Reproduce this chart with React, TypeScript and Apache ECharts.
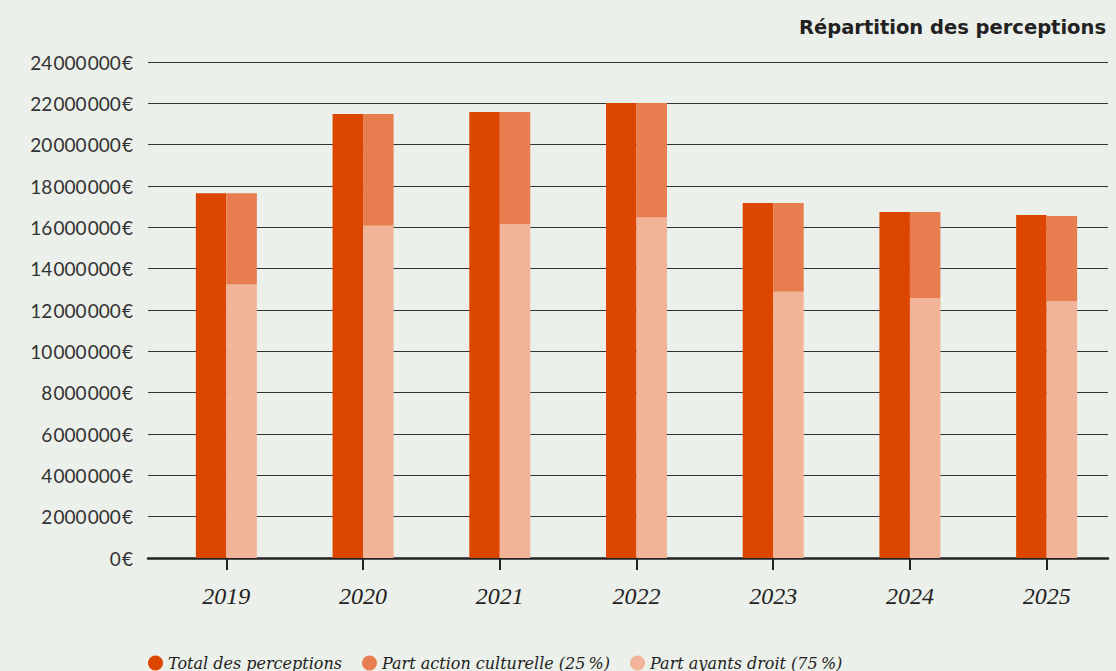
import React, { useEffect, useRef } from "react";
import * as echarts from "echarts";

const years = ["2019", "2020", "2021", "2022", "2023", "2024", "2025"];
const totalPerceptions = [17650000, 21480000, 21580000, 22020000, 17180000, 16740000, 16600000];
const partAyantsDroit = [13230000, 16080000, 16160000, 16480000, 12880000, 12570000, 12440000];
const partActionCulturelle = [4420000, 5400000, 5420000, 5540000, 4300000, 4170000, 4110000];
const yTicks = { min: 0, max: 24000000, interval: 2000000 };
const title = "Répartition des perceptions";
const seriesNames = ["Total des perceptions", "Part action culturelle (25\u202F%)", "Part ayants droit (75\u202F%)"];

const fmt = (v: number) => {
  const s = Math.round(v).toString().replace(/\B(?=(\d{3})+(?!\d))/g, "\u200A");
  return s + "\u200A€";
};

export default function App() {
  const ref = useRef<HTMLDivElement>(null);
  useEffect(() => {
    if (!ref.current) return;
    const chart = echarts.init(ref.current, null, { renderer: "svg" });
    const gridTop = 62;
    const gridBottom = 113;
    chart.setOption({
      animation: false,
      backgroundColor: "#ECF0EA",
      title: {
        text: title,
        right: 5,
        top: 12,
        textStyle: { fontFamily: "DejaVu Sans", fontWeight: "bold", fontSize: 19.5, color: "#222" },
      },
      legend: {
        data: seriesNames,
        left: 143,
        top: 650,
        icon: "circle",
        itemWidth: 15,
        itemHeight: 15,
        itemGap: 20,
        textStyle: { fontFamily: "DejaVu Serif", fontStyle: "italic", fontSize: 16, color: "#222" },
      },
      grid: [
        { left: 158, right: 1, top: gridTop, bottom: gridBottom },
        { left: 148, right: 8, top: gridTop, bottom: gridBottom },
      ],
      xAxis: [
        {
          type: "category",
          gridIndex: 0,
          data: years,
          axisLine: { show: false },
          axisTick: { show: true, alignWithLabel: true, length: 12, lineStyle: { color: "#222", width: 2 } },
          axisLabel: {
            margin: 26,
            fontFamily: "Liberation Serif",
            fontStyle: "italic",
            fontSize: 24,
            color: "#222",
          },
        },
        {
          type: "value",
          gridIndex: 1,
          min: 0,
          max: 1,
          axisLine: { show: true, onZero: false, lineStyle: { color: "#222", width: 2.5 } },
          axisTick: { show: false },
          axisLabel: { show: false },
          splitLine: { show: false },
        },
      ],
      yAxis: [
        {
          type: "value",
          gridIndex: 0,
          ...yTicks,
          axisLine: { show: false },
          axisTick: { show: false },
          splitLine: { show: false },
          axisLabel: {
            margin: 25,
            formatter: fmt,
            fontFamily: "Lato",
            fontSize: 19,
            color: "#333",
          },
        },
        {
          type: "value",
          gridIndex: 1,
          ...yTicks,
          axisLine: { show: false },
          axisTick: { show: false },
          axisLabel: { show: false },
          splitLine: { show: true, lineStyle: { color: "#333", width: 1.2 } },
        },
      ],
      series: [
        {
          name: seriesNames[0],
          type: "bar",
          xAxisIndex: 0,
          yAxisIndex: 0,
          data: totalPerceptions,
          barWidth: 30.5,
          barGap: "0%",
          itemStyle: { color: "#DD4600" },
        },
        {
          name: seriesNames[2],
          type: "bar",
          stack: "parts",
          xAxisIndex: 0,
          yAxisIndex: 0,
          data: partAyantsDroit,
          barWidth: 30.5,
          barGap: "0%",
          itemStyle: { color: "#F1B498" },
        },
        {
          name: seriesNames[1],
          type: "bar",
          stack: "parts",
          xAxisIndex: 0,
          yAxisIndex: 0,
          data: partActionCulturelle,
          barWidth: 30.5,
          barGap: "0%",
          itemStyle: { color: "#E87E50" },
        },
      ],
    });
    return () => chart.dispose();
  }, []);
  return (
    <div
      ref={ref}
      style={{ position: "absolute", left: 0, top: 0, width: 1116, height: 671 }}
    />
  );
}
